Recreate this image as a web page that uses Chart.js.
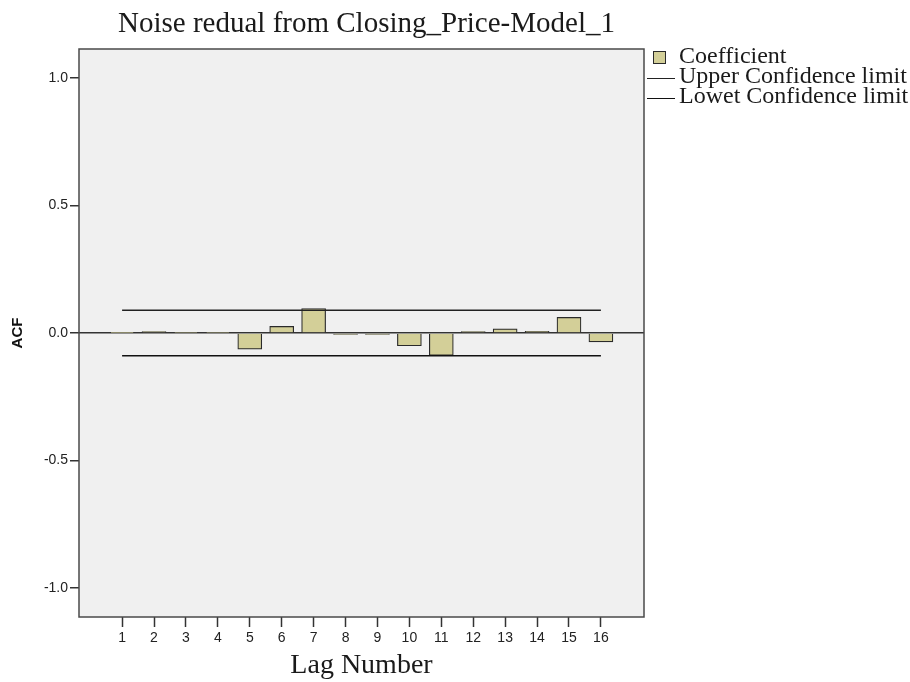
<!DOCTYPE html>
<html>
<head>
<meta charset="utf-8">
<script src="https://cdn.jsdelivr.net/npm/chart.js"></script>
<style>
body{margin:0;padding:0;background:#fff}
#wrap{position:relative;width:910px;height:682px}
#legend{position:absolute;left:0;top:0;font-family:"Liberation Serif","Times New Roman",serif;font-size:24px;color:#1a1a1a}
.row{position:absolute;left:645px;height:20px;display:flex;align-items:center;white-space:nowrap}
.mk{width:34px;height:20px;position:relative}
.txt{position:relative;top:-3px;line-height:24px}
</style>
</head>
<body>
<div id="wrap">
<canvas id="canvas" width="910" height="682"></canvas>
<div id="legend"></div>
</div>
<script>
// ACF of the noise residual, lags 1..16
const lags = [1,2,3,4,5,6,7,8,9,10,11,12,13,14,15,16];
const acf = [0.001,0.006,0.002,0.002,-0.063,0.026,0.096,-0.006,-0.006,-0.050,-0.088,0.006,0.016,0.007,0.061,-0.035];
const upperLimit = [0.089,0.089,0.089,0.089,0.089,0.089,0.089,0.089,0.089,0.089,0.089,0.089,0.089,0.089,0.089,0.089];
const lowerLimit = [-0.089,-0.089,-0.089,-0.089,-0.089,-0.089,-0.089,-0.089,-0.089,-0.089,-0.089,-0.089,-0.089,-0.089,-0.089,-0.089];
const yTicks = [-1.0,-0.5,0.0,0.5,1.0];
const titleText = "Noise redual from Closing_Price-Model_1";

const barFill = '#d3cf98';
const sans = '"Liberation Sans", Arial, sans-serif';
const serif = '"Liberation Serif", "Times New Roman", serif';

const plotFrame = {
    id:'plotFrame',
    beforeDraw(chart) {
        let {ctx,chartArea:a} = chart;
        ctx.save();
        ctx.fillStyle = '#f0f0f0';
        ctx.fillRect(a.left,a.top,a.right-a.left,a.bottom-a.top);
        ctx.restore();
    },
    afterDraw(chart) {
        let {ctx,chartArea:a} = chart;
        ctx.save();
        ctx.strokeStyle = '#4a4a4a';
        ctx.lineWidth = 1.5;
        ctx.strokeRect(a.left,a.top,a.right-a.left,a.bottom-a.top);
        ctx.font = '29px '+serif;
        ctx.fillStyle = '#1a1a1a';
        ctx.textAlign = 'center';
        ctx.textBaseline = 'alphabetic';
        ctx.fillText(titleText,(a.left+a.right)/2+5,32);
        ctx.restore();
    }
};

let pts = ys=>lags.map((x,i)=>({x:x,y:ys[i]}));

let control = {
    type:'bar',
    data:{
        datasets:[
            {label:'Coefficient',data:pts(acf),backgroundColor:barFill,borderColor:'#2a2a2a',borderWidth:1.2,barThickness:24,order:2},
            {type:'line',label:'Upper Confidence limit',data:pts(upperLimit),borderColor:'#222',borderWidth:1.5,pointRadius:0,fill:false,order:1},
            {type:'line',label:'Lowet Confidence limit',data:pts(lowerLimit),borderColor:'#111',borderWidth:1.5,pointRadius:0,fill:false,order:1}
        ]
    },
    options:{
        responsive:false,
        animation:false,
        layout:{padding:{top:49,right:266,bottom:0,left:0}},
        plugins:{legend:{display:false},tooltip:{enabled:false}},
        scales:{
            x:{
                type:'linear',min:-0.35,max:17.35,offset:false,
                afterBuildTicks:s=>{s.ticks = lags.map(v=>({value:v}));},
                afterFit:s=>{s.height = 65;},
                grid:{offset:false,drawOnChartArea:false,drawTicks:true,tickLength:10,tickColor:'#333',tickWidth:1.5},
                border:{display:false},
                ticks:{font:{family:sans,size:14},color:'#222',padding:3,maxRotation:0,autoSkip:false},
                title:{display:true,text:'Lag Number',font:{family:serif,size:28},color:'#1a1a1a',padding:{top:0,bottom:0}}
            },
            y:{
                min:-1.113,max:1.113,
                afterBuildTicks:s=>{s.ticks = yTicks.map(v=>({value:v}));},
                afterFit:s=>{s.width = 79;},
                grid:{
                    color:c=>c.tick&&c.tick.value===0?'#333':'rgba(0,0,0,0)',
                    lineWidth:1.5,tickLength:9,tickColor:'#333',tickWidth:1.5
                },
                border:{display:false},
                ticks:{font:{family:sans,size:14},color:'#222',padding:2,callback:v=>v.toFixed(1)},
                title:{display:true,text:'ACF',font:{family:sans,size:15,weight:'bold'},color:'#111',padding:{top:9,bottom:0}}
            }
        }
    },
    plugins:[plotFrame]
};

const chart = new Chart(document.getElementById('canvas').getContext('2d'),control);

// legend built from the datasets
let legend = document.getElementById('legend');
chart.data.datasets.forEach((ds,i)=>{
    let row = document.createElement('div');
    row.className = 'row';
    row.style.top = (48+i*20)+'px';
    let mk = document.createElement('div');
    mk.className = 'mk';
    if (ds.type==='line') {
        mk.innerHTML = `<div style="position:absolute;left:2px;top:10px;width:28px;height:0;border-top:${ds.borderWidth}px solid ${ds.borderColor}"></div>`;
    } else {
        mk.innerHTML = `<div style="position:absolute;left:8px;top:3px;width:11px;height:11px;background:${ds.backgroundColor};border:1px solid ${ds.borderColor}"></div>`;
    }
    let txt = document.createElement('span');
    txt.className = 'txt';
    txt.textContent = ds.label;
    row.appendChild(mk);
    row.appendChild(txt);
    legend.appendChild(row);
});
</script>
</body>
</html>
